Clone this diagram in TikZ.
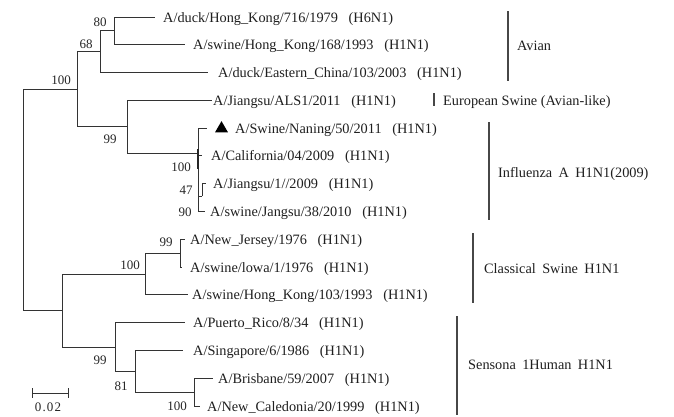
\documentclass[tikz,border=0pt]{standalone}
\usepackage{fontspec}
\setmainfont{Liberation Serif}
\usetikzlibrary{shapes.geometric}
\newcommand\leaffont{\fontsize{14.3}{16}\selectfont}
\newcommand\bootfont{\fontsize{13}{15}\selectfont}
\newcommand\hsp{\hspace{0.75em}}
\newcommand\wsp{\hspace{0.45em}}
\begin{document}
\begin{tikzpicture}[x=1pt,y=-1pt,
  branch/.style={draw=black!80, line width=0.9pt},
  thickbranch/.style={draw=black!85, line width=2pt},
  leaf/.style={anchor=base west, inner sep=0pt, font=\leaffont, text=black!88},
  boot/.style={inner sep=0pt, font=\bootfont, text=black!85},
  groupbar/.style={draw=black!72, line width=1.3pt},
  grouplabel/.style={anchor=base west, inner sep=0pt, font=\leaffont, text=black!88},
  marker/.style={regular polygon, regular polygon sides=3, fill=black, draw=none, minimum size=15pt, inner sep=0pt}]
\useasboundingbox[fill=white] (0,0) rectangle (674,416);

% internal nodes
\coordinate (root) at (23,199.9);
\coordinate (n77) at (77,89.2);
\coordinate (n68) at (100,51.7);
\coordinate (n80) at (114,30.9);
\coordinate (n99a) at (127,126.7);
\coordinate (nA) at (198,153);
\coordinate (n47) at (202,196);
\coordinate (n62) at (62,310.5);
\coordinate (n100c) at (145,274.05);
\coordinate (n99b) at (180,253.2);
\coordinate (n99d) at (115,346.98);
\coordinate (n81) at (135,371.25);
\coordinate (nBN) at (194,392.1);

% leaf tips
\coordinate (t1) at (155,17);
\coordinate (t2) at (185,44.8);
\coordinate (t3) at (208,72.6);
\coordinate (t4) at (212,100.4);
\coordinate (t5) at (207,128.1);
\coordinate (t6) at (202,155.9);
\coordinate (t7) at (206,183.7);
\coordinate (t8) at (205,211.5);
\coordinate (t9) at (185,239.3);
\coordinate (t10) at (182,267.1);
\coordinate (t11) at (188,294.9);
\coordinate (t12) at (185,322.7);
\coordinate (t13) at (183,350.4);
\coordinate (t14) at (213,378.2);
\coordinate (t15) at (200,406);

% branches
\draw[branch] (root) |- (n77);
\draw[branch] (root) |- (n62);
\draw[branch] (n77) |- (n68);
\draw[branch] (n77) |- (n99a);
\draw[branch] (n68) |- (n80);
\draw[branch] (n68) |- (t3);
\draw[branch] (n80) |- (t1);
\draw[branch] (n80) |- (t2);
\draw[branch] (n99a) |- (t4);
\draw[branch] (n99a) |- (nA);
\draw[branch] (nA) |- (t5);
\draw[branch] (nA) |- (t6);
\draw[branch] (nA) |- (n47);
\draw[branch] (n47) |- (t7);
\draw[branch] (nA) |- (t8);
\coordinate (thA1) at (198,149);
\coordinate (thA2) at (198,169);
\draw[thickbranch] (thA1) -- (thA2);
\draw[branch] (n62) |- (n100c);
\draw[branch] (n62) |- (n99d);
\draw[branch] (n100c) |- (n99b);
\draw[branch] (n100c) |- (t11);
\draw[branch] (n99b) |- (t9);
\draw[branch] (n99b) |- (t10);
\draw[branch] (n99d) |- (t12);
\draw[branch] (n99d) |- (n81);
\draw[branch] (n81) |- (t13);
\draw[branch] (n81) |- (nBN);
\draw[branch] (nBN) |- (t14);
\draw[branch] (nBN) |- (t15);

% leaf labels
\node[leaf] (l1) at (163,22) {A/duck/Hong\_Kong/716/1979\hsp(H6N1)};
\node[leaf] (l2) at (193,49.8) {A/swine/Hong\_Kong/168/1993\hsp(H1N1)};
\node[leaf] (l3) at (218,77.6) {A/duck/Eastern\_China/103/2003\hsp(H1N1)};
\node[leaf] (l4) at (213,105.4) {A/Jiangsu/ALS1/2011\hsp(H1N1)};
\node[marker] (tri) at (221.5,128.6) {};
\node[leaf] (l5) at (235,133.1) {A/Swine/Naning/50/2011\hsp(H1N1)};
\node[leaf] (l6) at (211,160.9) {A/California/04/2009\hsp(H1N1)};
\node[leaf] (l7) at (213,188.7) {A/Jiangsu/1//2009\hsp(H1N1)};
\node[leaf] (l8) at (210,216.5) {A/swine/Jangsu/38/2010\hsp(H1N1)};
\node[leaf] (l9) at (190,244.3) {A/New\_Jersey/1976\hsp(H1N1)};
\node[leaf] (l10) at (190,272.1) {A/swine/lowa/1/1976\hsp(H1N1)};
\node[leaf] (l11) at (192,299.9) {A/swine/Hong\_Kong/103/1993\hsp(H1N1)};
\node[leaf] (l12) at (193,327.7) {A/Puerto\_Rico/8/34\hsp(H1N1)};
\node[leaf] (l13) at (193,355.4) {A/Singapore/6/1986\hsp(H1N1)};
\node[leaf] (l14) at (218,383.2) {A/Brisbane/59/2007\hsp(H1N1)};
\node[leaf] (l15) at (207,411) {A/New\_Caledonia/20/1999\hsp(H1N1)};

% bootstrap values
\node[boot] (b80) at (100,22) {80};
\node[boot] (b68) at (86,44) {68};
\node[boot] (b100a) at (61,80) {100};
\node[boot] (b99a) at (110,139) {99};
\node[boot] (b100b) at (181,167) {100};
\node[boot] (b47) at (186,190) {47};
\node[boot] (b90) at (185,212) {90};
\node[boot] (b99b) at (166,242) {99};
\node[boot] (b100c) at (130,265) {100};
\node[boot] (b99c) at (100,360) {99};
\node[boot] (b81) at (121,386) {81};
\node[boot] (b100d) at (177,406) {100};

% scale bar
\coordinate (sb1) at (32,393);
\coordinate (sb2) at (68,393);
\coordinate (sb1u) at (32,388);
\coordinate (sb1d) at (32,398);
\coordinate (sb2u) at (68,388);
\coordinate (sb2d) at (68,398);
\draw[branch] (sb1) -- (sb2);
\draw[branch] (sb1u) -- (sb1d);
\draw[branch] (sb2u) -- (sb2d);
\node[boot] (sbl) at (48,407) {0\kern1.2pt.\kern1.2pt0\kern1.2pt2};

% group bars
\coordinate (ga1) at (508,11);   \coordinate (ga2) at (508,81);
\coordinate (ge1) at (434,93);   \coordinate (ge2) at (434,106);
\coordinate (gi1) at (489,122);  \coordinate (gi2) at (489,220);
\coordinate (gc1) at (473,233);  \coordinate (gc2) at (473,303);
\coordinate (gh1) at (457,316);  \coordinate (gh2) at (457,415);
\draw[groupbar] (ga1) -- (ga2);
\draw[groupbar] (ge1) -- (ge2);
\draw[groupbar] (gi1) -- (gi2);
\draw[groupbar] (gc1) -- (gc2);
\draw[groupbar] (gh1) -- (gh2);
\node[grouplabel] (gla) at (517,50) {Avian};
\node[grouplabel] (gle) at (443,105) {European Swine (Avian-like)};
\node[grouplabel] (gli) at (498,177) {Influenza\wsp A\wsp H1N1(2009)};
\node[grouplabel] (glc) at (484,273) {Classical\wsp Swine\wsp H1N1};
\node[grouplabel] (glh) at (468,369) {Sensona\wsp 1Human\wsp H1N1};
\end{tikzpicture}
\end{document}
